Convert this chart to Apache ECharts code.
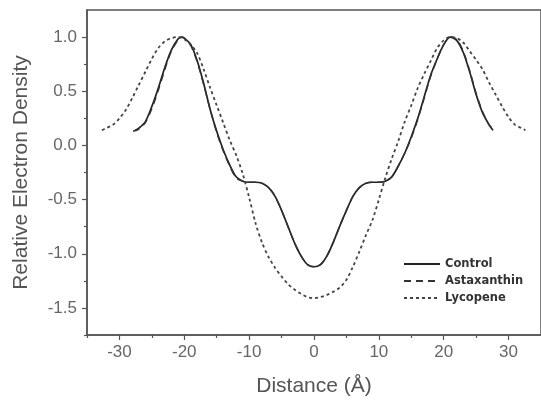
<!DOCTYPE html>
<html>
<head>
<meta charset="utf-8">
<script src="https://cdn.jsdelivr.net/npm/echarts@6/dist/echarts.min.js"></script>
<style>
  html, body { margin: 0; padding: 0; background: #fff; }
  #main { width: 541px; height: 405px; }
</style>
</head>
<body>
<div id="main"></div>
<script>
// values (distance in Å, relative electron density)
const controlX = [-27.6, -27, -26, -25, -24, -23, -22, -21, -20.5, -20, -19, -18, -17, -16, -15, -14, -13, -12, -11, -10, -9, -8, -7, -6, -5, -4, -3, -2, -1, 0,
  1, 2, 3, 4, 5, 6, 7, 8, 9, 10, 11, 12, 13, 14, 15, 16, 17, 18, 19, 20, 21, 22, 23, 24, 25, 26, 27, 27.6]
const controlY = [0.14, 0.16, 0.22, 0.36, 0.53, 0.72, 0.88, 0.98, 1.0, 0.99, 0.93, 0.78, 0.57, 0.33, 0.13, -0.04, -0.18, -0.29, -0.33, -0.34, -0.34, -0.35, -0.39, -0.47, -0.60, -0.75, -0.90, -1.02, -1.10, -1.12,
  -1.10, -1.02, -0.89, -0.74, -0.60, -0.47, -0.39, -0.35, -0.34, -0.34, -0.33, -0.29, -0.19, -0.07, 0.08, 0.25, 0.45, 0.65, 0.80, 0.93, 1.0, 0.97, 0.86, 0.68, 0.47, 0.30, 0.19, 0.14]

const astaX = [-27.9, -27, -26, -25, -24, -23, -22, -21, -20.5, -20, -19, -18, -17, -16, -15, -14, -13, -12, -11, -10, -9, -8, -7, -6, -5, -4, -3, -2, -1, 0,
  1, 2, 3, 4, 5, 6, 7, 8, 9, 10, 11, 12, 13, 14, 15, 16, 17, 18, 19, 20, 21, 22, 23, 24, 25, 26, 27, 27.8]
const astaY = [0.13, 0.15, 0.21, 0.34, 0.51, 0.70, 0.87, 0.97, 1.0, 0.99, 0.92, 0.77, 0.56, 0.33, 0.12, -0.05, -0.19, -0.30, -0.33, -0.34, -0.34, -0.35, -0.39, -0.47, -0.60, -0.75, -0.90, -1.02, -1.10, -1.12,
  -1.10, -1.02, -0.89, -0.74, -0.60, -0.47, -0.39, -0.35, -0.34, -0.34, -0.33, -0.29, -0.19, -0.07, 0.07, 0.24, 0.44, 0.64, 0.80, 0.93, 1.0, 0.98, 0.87, 0.69, 0.48, 0.31, 0.19, 0.14]

const lycoX = [-32.7, -32, -31, -30, -29, -28, -27, -26, -25, -24, -23, -22, -21, -20, -19, -18, -17, -16, -15, -14, -13, -12, -11, -10, -9, -8, -7, -6, -5, -4, -3, -2, -1, 0,
  1, 2, 3, 4, 5, 6, 7, 8, 9, 10, 11, 12, 13, 14, 15, 16, 17, 18, 19, 20, 21, 22, 23, 24, 25, 26, 27, 28, 29, 30, 31, 32, 32.6]
const lycoY = [0.14, 0.16, 0.19, 0.25, 0.33, 0.44, 0.56, 0.68, 0.80, 0.90, 0.96, 0.99, 1.0, 0.98, 0.93, 0.85, 0.70, 0.53, 0.37, 0.21, 0.05, -0.09, -0.26, -0.48, -0.72, -0.90, -1.03, -1.13, -1.21, -1.28, -1.33, -1.37, -1.40, -1.41,
  -1.40, -1.38, -1.35, -1.31, -1.24, -1.12, -0.98, -0.83, -0.69, -0.50, -0.30, -0.12, 0.04, 0.22, 0.37, 0.53, 0.66, 0.78, 0.90, 0.97, 1.0, 0.99, 0.95, 0.87, 0.79, 0.70, 0.58, 0.47, 0.36, 0.26, 0.19, 0.16, 0.14]

const xMajorTicks = [-30, -20, -10, 0, 10, 20, 30]
const xMinorTicks = [-35, -25, -15, -5, 5, 15, 25]
const yMajorTicks = [-1.5, -1.0, -0.5, 0.0, 0.5, 1.0]
const yMinorTicks = [-1.75, -1.25, -0.75, -0.25, 0.25, 0.75]

const zip = (xs, ys) => xs.map((x, i) => [x, ys[i]])

const axisColor = '#555'
const fontFamily = 'Liberation Sans, Arial, sans-serif'
const labelStyle = { color: '#666', fontSize: 17, fontFamily: fontFamily }

const myChart = echarts.init(document.getElementById('main'))
myChart.setOption({
  animation: false,
  grid: {
    left: 87, top: 10, right: -6, bottom: 70,
    show: true, borderColor: axisColor, borderWidth: 1.5
  },
  legend: {
    orient: 'vertical',
    left: 403,
    top: 258,
    padding: 0,
    itemWidth: 36,
    itemHeight: 12,
    itemGap: 5,
    itemStyle: { opacity: 0 },
    textStyle: { color: '#333', fontSize: 11.5, fontWeight: 'bold', fontFamily: 'DejaVu Sans, sans-serif' },
    data: ['Control', 'Astaxanthin', 'Lycopene']
  },
  xAxis: [
    {
      type: 'value', min: -35, max: 35, position: 'bottom',
      name: 'Distance (Å)', nameLocation: 'middle', nameGap: 41,
      nameTextStyle: { color: '#555', fontSize: 21, fontFamily: fontFamily },
      axisLine: { onZero: false, lineStyle: { color: axisColor, width: 1.5 } },
      axisTick: { customValues: xMajorTicks, length: 5, lineStyle: { color: axisColor, width: 1.2 } },
      axisLabel: Object.assign({ customValues: xMajorTicks, margin: 9 }, labelStyle),
      splitLine: { show: false }
    },
    {
      type: 'value', min: -35, max: 35, position: 'bottom', offset: 0,
      axisLine: { show: false, onZero: false },
      axisTick: { customValues: xMinorTicks, length: 3, lineStyle: { color: axisColor, width: 1.2 } },
      axisLabel: { show: false },
      splitLine: { show: false }
    }
  ],
  yAxis: [
    {
      type: 'value', min: -1.75, max: 1.25, position: 'left',
      name: 'Relative Electron Density', nameLocation: 'middle', nameGap: 55,
      nameTextStyle: { color: '#555', fontSize: 21, fontFamily: fontFamily },
      axisLine: { show: true, onZero: false, lineStyle: { color: axisColor, width: 1.5 } },
      axisTick: { show: true, customValues: yMajorTicks, length: 5, lineStyle: { color: axisColor, width: 1.2 } },
      axisLabel: Object.assign({ customValues: yMajorTicks, margin: 10, formatter: v => v.toFixed(1) }, labelStyle),
      splitLine: { show: false }
    },
    {
      type: 'value', min: -1.75, max: 1.25, position: 'left', offset: 0,
      axisLine: { show: false, onZero: false },
      axisTick: { show: true, customValues: yMinorTicks, length: 3, lineStyle: { color: axisColor, width: 1.2 } },
      axisLabel: { show: false },
      splitLine: { show: false }
    }
  ],
  series: [
    {
      name: 'Control', type: 'line', symbol: 'none', smooth: 0.3,
      lineStyle: { color: '#222', width: 1.7 },
      itemStyle: { color: '#222' },
      data: zip(controlX, controlY)
    },
    {
      name: 'Astaxanthin', type: 'line', symbol: 'none', smooth: 0.3,
      lineStyle: { color: '#333', width: 1.5, type: [7, 5] },
      itemStyle: { color: '#333' },
      data: zip(astaX, astaY)
    },
    {
      name: 'Lycopene', type: 'line', symbol: 'none', smooth: 0.3,
      lineStyle: { color: '#444', width: 1.8, type: [3, 3] },
      itemStyle: { color: '#444' },
      data: zip(lycoX, lycoY)
    }
  ]
})
</script>
</body>
</html>
